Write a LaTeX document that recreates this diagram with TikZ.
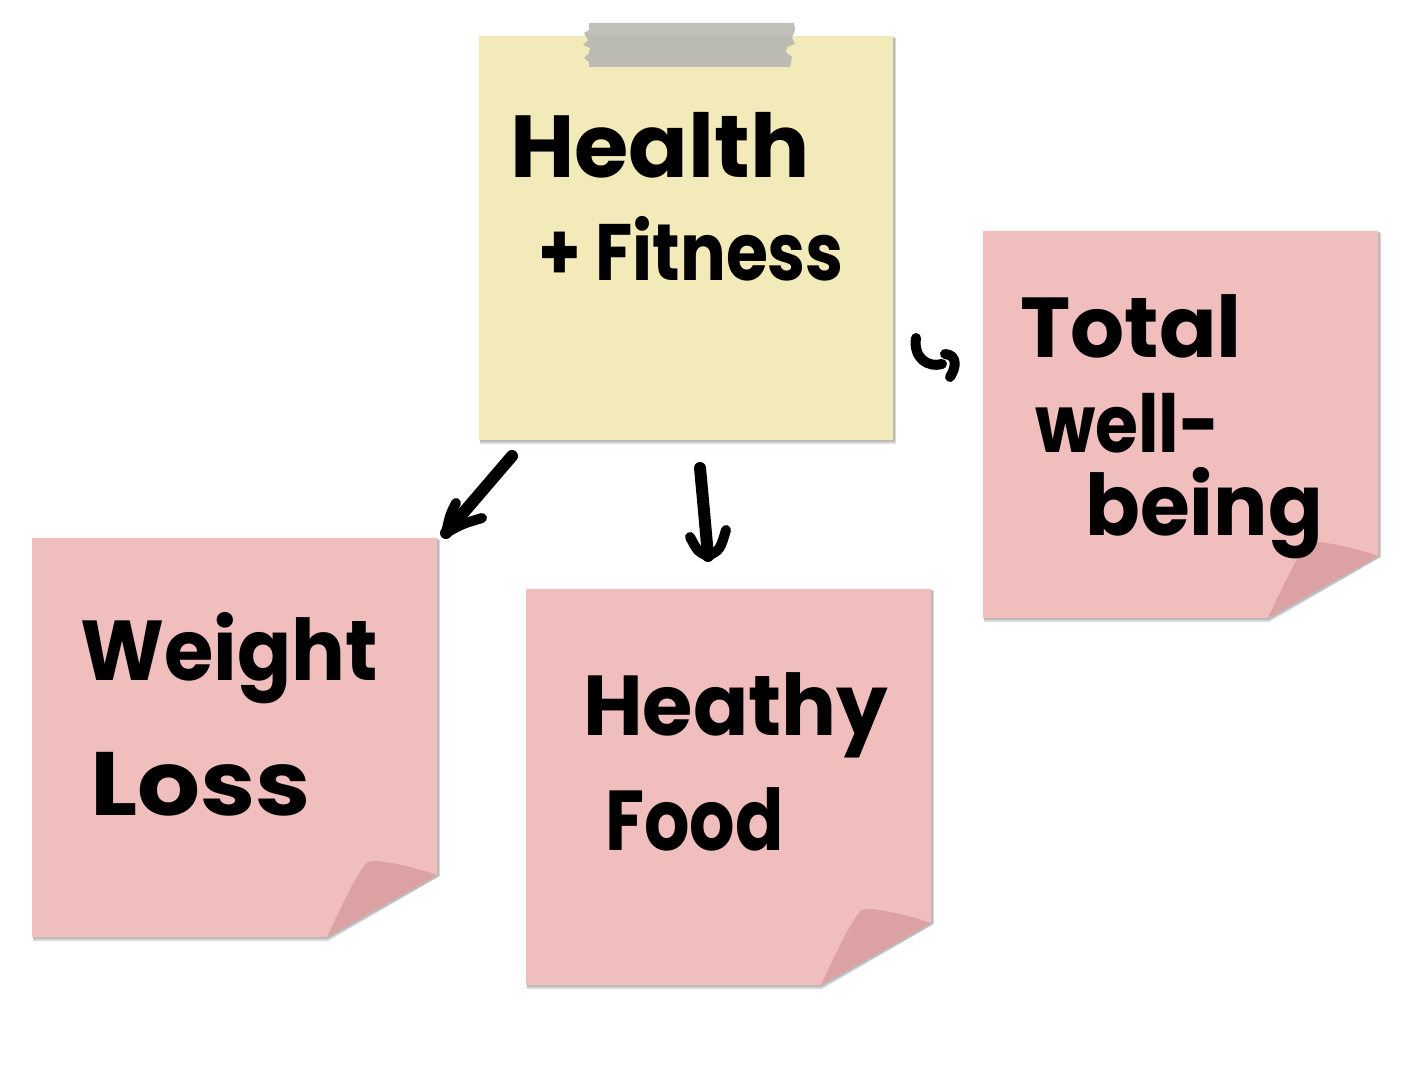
\documentclass[tikz,border=0pt]{standalone}
\usepackage{fontspec}
\usepackage{graphicx}
\newfontfamily\handfont{Poppins}
\definecolor{yellownote}{HTML}{F3EABA}
\definecolor{pinknote}{HTML}{F1BEBE}
\definecolor{curlpink}{HTML}{DCA1A2}
\definecolor{tapegray}{HTML}{BBBAB3}
\definecolor{shadowgray}{HTML}{9A9A9A}
\newcommand\curlnote[4]{%
  \fill[shadowgray,opacity=.35] (#1+1,#2+2) -- (#3+3,#2+2) -- (#3+3,#4-61) -- (#3-109,#4+4) -- (#1+1,#4+4) -- cycle;
  \fill[shadowgray,opacity=.5] (#1+1,#2+1) -- (#3+2,#2+1) -- (#3+2,#4-61) -- (#3-109,#4+2) -- (#1+1,#4+2) -- cycle;
  \fill[pinknote] (#1,#2) -- (#3,#2) -- (#3,#4-62) -- (#3-110,#4) -- (#1,#4) -- cycle;
  \fill[curlpink] (#3-110,#4) .. controls (#3-95,#4-32) and (#3-82,#4-60) .. (#3-72,#4-72)
     .. controls (#3-70,#4-76) and (#3-66,#4-76) .. (#3-60,#4-76)
     .. controls (#3-40,#4-74) and (#3-18,#4-68) .. (#3,#4-62) -- cycle;
}
\newcommand\hx[2]{\scalebox{#1}[1]{#2}}
\tikzset{
  hand/.style={font=\handfont\bfseries\fontsize{85}{90}\selectfont, anchor=base west, inner sep=0pt, text=black},
  stroke/.style={line width=12pt, line cap=round, line join=round, black},
}
\begin{document}
\begin{tikzpicture}[x=1pt,y=-1pt]
\useasboundingbox (0,0) rectangle (1412,1083);
\fill[white] (0,0) rectangle (1412,1083);

% yellow note
\fill[shadowgray,opacity=.35] (480,38) rectangle (896,444);
\fill[shadowgray,opacity=.5] (480,37) rectangle (895,442);
\fill[yellownote] (479,36) rectangle (893,440);
% tape
\fill[tapegray] (589,23) -- (794,23) -- (795,30) -- (792,38) -- (795,44) -- (787,47) -- (786,52) -- (792,57) -- (790,67)
  -- (589,67) -- (589,62) -- (584,58) -- (589,53) -- (590,48) -- (583,45) -- (588,40) -- (584,33) -- (589,30) -- cycle;
\fill[white,opacity=.08] (589,23) rectangle (795,36);

% pink notes
\curlnote{983}{231}{1378}{618}
\curlnote{32}{538}{437}{937}
\curlnote{526}{589}{931}{985}

% texts
\node[hand, font=\handfont\bfseries\fontsize{88}{90}\selectfont] (hf1) at (510,178) {Health};
\node[hand, font=\handfont\bfseries\fontsize{80}{84}\selectfont] (hf2) at (538,280) {\hx{0.85}{+ Fitness}};

\node[hand] (tw1) at (1020,357) {Total};
\node[hand, font=\handfont\bfseries\fontsize{80}{84}\selectfont] (tw2) at (1035,452) {\hx{0.87}{well-}};
\node[hand] (tw3) at (1085,535) {\hx{0.95}{being}};

\node[hand] (wl1) at (80,680) {\hx{0.94}{Weight}};
\node[hand, font=\handfont\bfseries\fontsize{90}{94}\selectfont] (wl2) at (90,815) {\hx{1.1}{Loss}};

\node[hand] (hy1) at (583,735) {\hx{0.96}{Heathy}};
\node[hand] (hy2) at (605,850) {\hx{0.84}{Food}};

% arrows
\coordinate (a1s) at (512,456);
\coordinate (a1t) at (446,533);
\coordinate (a1l) at (456,503);
\coordinate (a1r) at (482,518);
\draw[stroke] (a1s) -- (a1t);
\draw[stroke, line width=10pt] (a1l) .. controls (450,515) .. (a1t) .. controls (462,524) .. (a1r);

\coordinate (a2s) at (700,468);
\coordinate (a2t) at (708,556);
\coordinate (a2l) at (690,537);
\coordinate (a2r) at (726,530);
\draw[stroke] (a2s) .. controls (703,500) .. (a2t);
\draw[stroke, line width=10pt] (a2l) .. controls (698,552) .. (a2t) .. controls (720,550) .. (a2r);

\coordinate (a3s) at (916,338);
\coordinate (a3m) at (942,364);
\coordinate (a3a) at (945,354);
\coordinate (a3b) at (950,377);
\draw[stroke, line width=10pt] (a3s) .. controls (913,358) and (928,368) .. (a3m);
\draw[stroke, line width=10pt] (a3a) .. controls (958,355) and (956,368) .. (a3b);
\end{tikzpicture}
\end{document}
